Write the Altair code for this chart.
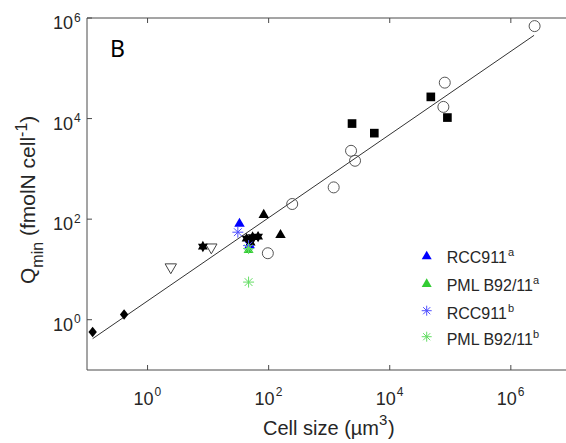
import math
import altair as alt
import pandas as pd

# ---------------- data ----------------
diam_x = [0.124, 0.41]
diam_y = [0.57, 1.27]

tri_dn_x = [2.42, 11.3]
tri_dn_y = [10.3, 25.6]

hex_x = [8.2, 43.3, 54.3, 66.9, 50.3]
hex_y = [28.5, 41.0, 44.0, 45.0, 34.2]

tri_up_x = [83, 157]
tri_up_y = [130, 52]

circ_x = [97, 245, 1186, 2296, 2672, 76900, 81100, 2.47e6]
circ_y = [21, 200, 428, 2286, 1448, 17060, 51800, 690000]

sq_x = [2384, 5560, 47700, 89600]
sq_y = [7960, 5130, 27000, 10470]

rcc_a_x = [33, 48.5]
rcc_a_y = [86.5, 32.6]
pml_a_x = [46.6]
pml_a_y = [26]
rcc_b_x = [31, 46.6]
rcc_b_y = [55, 29.8]
pml_b_x = [46.6, 46.6]
pml_b_y = [5.6, 26]

fit_x = [0.124, 2.42e6]
fit_y = [0.42, 4.52e5]

tick_vals = [1, 100, 1e4, 1e6]
tick_exps = ["0", "2", "4", "6"]

legend_labels = ["RCC911", "PML B92/11", "RCC911", "PML B92/11"]
legend_sups = ["a", "a", "b", "b"]

# ---------------- layout ----------------
W, H = 479, 352
FONT = "Liberation Sans"
AX = "#4a4a4a"
TXT = "#262626"
BLUE = "#0000FF"
GREEN = "#33CC33"
BLUE_AST = "#5050FF"
GREEN_AST = "#66DD66"

xs = alt.Scale(type="log", domain=[0.1, 8.15e6], nice=False)
ys = alt.Scale(type="log", domain=[0.1, 1e6], nice=False)


def df(xv, yv):
    return pd.DataFrame({"x": xv, "y": yv})


def enc():
    return dict(x=alt.X("x:Q", scale=xs, axis=None), y=alt.Y("y:Q", scale=ys, axis=None))


def hexagram_path():
    pts = []
    for k in range(12):
        a = math.radians(-90 + 30 * k)
        r = 1.0 if k % 2 == 0 else 0.577
        pts.append((r * math.cos(a), r * math.sin(a)))
    return "M" + "L".join(f"{p[0]:.3f},{p[1]:.3f}" for p in pts) + "Z"


HEX = hexagram_path()
AST = "M-1,0L1,0M0,-1L0,1M-0.71,-0.71L0.71,0.71M-0.71,0.71L0.71,-0.71"
DIAM = "M0,-1L0.8,0L0,1L-0.8,0Z"

one = pd.DataFrame({"a": [0]})
layers = []

# borders (left, bottom, top)
layers.append(alt.Chart(one).mark_rule(color=AX, strokeWidth=1).encode(
    x=alt.value(0), y=alt.value(0), y2=alt.value(H)))
layers.append(alt.Chart(one).mark_rule(color=AX, strokeWidth=1).encode(
    x=alt.value(0), x2=alt.value(W), y=alt.value(H)))
layers.append(alt.Chart(one).mark_rule(color=AX, strokeWidth=1).encode(
    x=alt.value(0), x2=alt.value(W), y=alt.value(0)))

ticks = pd.DataFrame({"v": tick_vals, "e": tick_exps})
# inward ticks
layers.append(alt.Chart(ticks).mark_rule(color=AX).encode(
    x=alt.X("v:Q", scale=xs, axis=None), y=alt.value(H), y2=alt.value(H - 5)))
layers.append(alt.Chart(ticks).mark_rule(color=AX).encode(
    x=alt.X("v:Q", scale=xs, axis=None), y=alt.value(0), y2=alt.value(5)))
layers.append(alt.Chart(ticks).mark_rule(color=AX).encode(
    y=alt.Y("v:Q", scale=ys, axis=None), x=alt.value(0), x2=alt.value(5)))

# tick labels x
layers.append(alt.Chart(ticks).mark_text(font=FONT, fontSize=18, color=TXT, align="right",
                                         baseline="alphabetic", dx=6).encode(
    x=alt.X("v:Q", scale=xs, axis=None), y=alt.value(387), text=alt.value("10")))
layers.append(alt.Chart(ticks).mark_text(font=FONT, fontSize=12, color=TXT, align="left",
                                         baseline="alphabetic", dx=7).encode(
    x=alt.X("v:Q", scale=xs, axis=None), y=alt.value(378), text="e:N"))
# tick labels y
layers.append(alt.Chart(ticks).mark_text(font=FONT, fontSize=18, color=TXT, align="right",
                                         baseline="alphabetic", dy=11).encode(
    y=alt.Y("v:Q", scale=ys, axis=None), x=alt.value(-14), text=alt.value("10")))
layers.append(alt.Chart(ticks).mark_text(font=FONT, fontSize=12, color=TXT, align="left",
                                         baseline="alphabetic", dy=3.5).encode(
    y=alt.Y("v:Q", scale=ys, axis=None), x=alt.value(-13), text="e:N"))

# fit line
layers.append(alt.Chart(df(fit_x, fit_y)).mark_line(color="#333333", strokeWidth=1).encode(**enc()))

# data markers
layers.append(alt.Chart(df(diam_x, diam_y)).mark_point(shape=DIAM, filled=True, size=110,
                                                       color="black", opacity=1).encode(**enc()))
layers.append(alt.Chart(df(tri_dn_x, tri_dn_y)).mark_point(shape="triangle-down", filled=False, size=130,
                                                           color="#444444", strokeWidth=1, opacity=1).encode(**enc()))
layers.append(alt.Chart(df(circ_x, circ_y)).mark_point(shape="circle", filled=False, size=121,
                                                       color="#555555", strokeWidth=1, opacity=1).encode(**enc()))
layers.append(alt.Chart(df(sq_x, sq_y)).mark_point(shape="square", filled=True, size=75,
                                                   color="black", opacity=1).encode(**enc()))
layers.append(alt.Chart(df(tri_up_x, tri_up_y)).mark_point(shape="triangle-up", filled=True, size=110,
                                                           color="black", opacity=1).encode(**enc()))
layers.append(alt.Chart(df(rcc_a_x, rcc_a_y)).mark_point(shape="triangle-up", filled=True, size=110,
                                                         color=BLUE, opacity=1).encode(**enc()))
layers.append(alt.Chart(df(pml_a_x, pml_a_y)).mark_point(shape="triangle-up", filled=True, size=100,
                                                         color=GREEN, opacity=1).encode(**enc()))
layers.append(alt.Chart(df(hex_x, hex_y)).mark_point(shape=HEX, filled=True, size=130,
                                                     color="black", opacity=1).encode(**enc()))
layers.append(alt.Chart(df(rcc_b_x, rcc_b_y)).mark_point(shape=AST, filled=False, size=121,
                                                         color=BLUE_AST, strokeWidth=1, opacity=1).encode(**enc()))
layers.append(alt.Chart(df(pml_b_x, pml_b_y)).mark_point(shape=AST, filled=False, size=121,
                                                         color=GREEN_AST, strokeWidth=1, opacity=1).encode(**enc()))

# panel label
layers.append(alt.Chart(one).mark_text(font="Noto Sans", fontSize=23, color="black", align="center",
                                       baseline="alphabetic").encode(
    x=alt.value(30.5), y=alt.value(38.7), text=alt.value("B")))

# legend
leg_shapes = ["triangle-up", "triangle-up", AST, AST]
leg_colors = [BLUE, GREEN, BLUE_AST, GREEN_AST]
leg_filled = [True, True, False, False]
leg_y = [237, 264.7, 292.7, 318.7]
leg_sup_x = [421, 446, 421, 446]
for i in range(4):
    layers.append(alt.Chart(one).mark_point(shape=leg_shapes[i], filled=leg_filled[i], size=100,
                                            color=leg_colors[i], strokeWidth=1, opacity=1).encode(
        x=alt.value(339.7), y=alt.value(leg_y[i])))
    layers.append(alt.Chart(one).mark_text(font=FONT, fontSize=16, color=TXT, align="left",
                                           baseline="alphabetic").encode(
        x=alt.value(359.7), y=alt.value(leg_y[i] + 8.3), text=alt.value(legend_labels[i])))
    layers.append(alt.Chart(one).mark_text(font=FONT, fontSize=11, color=TXT, align="left",
                                           baseline="alphabetic").encode(
        x=alt.value(leg_sup_x[i]), y=alt.value(leg_y[i] + 1), text=alt.value(legend_sups[i])))

# x axis title
layers.append(alt.Chart(one).mark_text(font=FONT, fontSize=20, color=TXT, align="left",
                                       baseline="alphabetic").encode(
    x=alt.value(176), y=alt.value(417), text=alt.value("Cell size (µm")))
layers.append(alt.Chart(one).mark_text(font=FONT, fontSize=15, color=TXT, align="left",
                                       baseline="alphabetic").encode(
    x=alt.value(292), y=alt.value(407), text=alt.value("3")))
layers.append(alt.Chart(one).mark_text(font=FONT, fontSize=20, color=TXT, align="left",
                                       baseline="alphabetic").encode(
    x=alt.value(301), y=alt.value(417), text=alt.value(")")))

# y axis title (rotated pieces; y is the start point along the text, measured upward)
ytitle = [("Q", 21, -52, 266), ("min", 16, -44, 249.7), ("(fmolN cell", 21, -52, 218.1),
          ("-1", 16, -60, 118.9), (")", 21, -52, 104.7)]
for t, fs, xx, yy in ytitle:
    layers.append(alt.Chart(one).mark_text(font=FONT, fontSize=fs, color=TXT, align="left",
                                           baseline="alphabetic", angle=270).encode(
        x=alt.value(xx), y=alt.value(yy), text=alt.value(t)))

chart = alt.layer(*layers).properties(
    width=W, height=H,
    autosize=alt.AutoSizeParams(type="none"),
    padding={"left": 87, "top": 18, "right": 0, "bottom": 73},
).configure_view(stroke=None)

chart.save("out.html", embed_options={"renderer": "svg", "actions": False})
